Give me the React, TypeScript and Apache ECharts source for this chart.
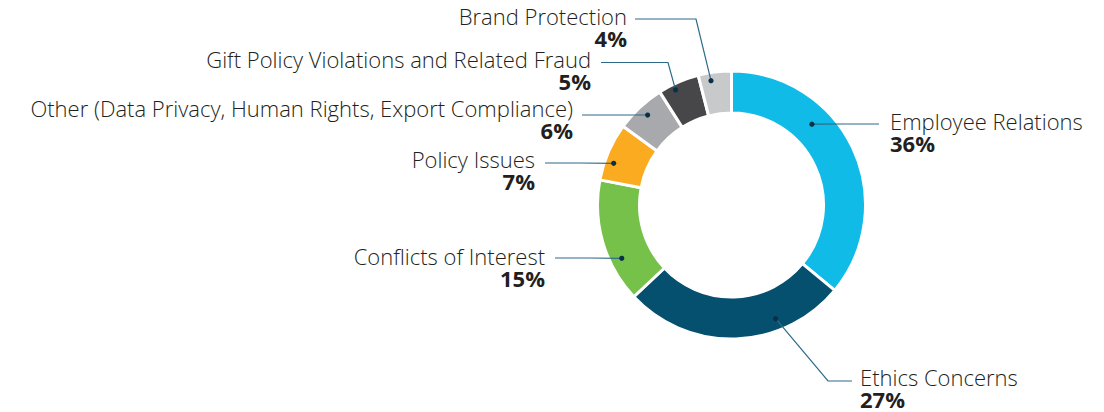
import React, { useEffect, useRef } from "react";
import * as echarts from "echarts";

const categories = [
  "Employee Relations",
  "Ethics Concerns",
  "Conflicts of Interest",
  "Policy Issues",
  "Other (Data Privacy, Human Rights, Export Compliance)",
  "Gift Policy Violations and Related Fraud",
  "Brand Protection",
];
const values = [36, 27, 15, 7, 6, 5, 4];
const colors = ["#10BBE8", "#05506F", "#76C14A", "#FBAB1F", "#A8A9AC", "#474749", "#C8C9CB"];

// layout (not data)
const CX = 731.5;
const CY = 205;
const R_IN = 92;
const R_OUT = 134;
const anchorFrac = [0.346, 0.3, 0.32, 0.345, 0.51, 0.36, 0.35];
const anchorR = [114, 122, 122, 125, 123, 128, 126];
// label: [x, yTop, align]
const labelPos: [number, number, string][] = [
  [890, 110, "left"],
  [860, 366, "left"],
  [545, 245, "right"],
  [535, 148, "right"],
  [573, 97, "right"],
  [591, 48, "right"],
  [627, 5, "right"],
];
// intermediate + end points of leader lines
const leaderPts: [number, number][][] = [
  [[845, 124], [879, 124]],
  [[828, 381], [852, 381]],
  [[590, 258], [555, 258]],
  [[580, 163], [545, 163]],
  [[620, 115], [582, 115]],
  [[668, 62.5], [601, 62.5]],
  [[696, 19], [635, 19]],
];

function anchorPoint(i: number): [number, number] {
  const total = values.reduce((a, b) => a + b, 0);
  let cum = 0;
  for (let k = 0; k < i; k++) cum += values[k];
  const theta = ((cum + anchorFrac[i] * values[i]) / total) * Math.PI * 2;
  return [CX + anchorR[i] * Math.sin(theta), CY - anchorR[i] * Math.cos(theta)];
}

export default function App() {
  const ref = useRef<HTMLDivElement>(null);
  useEffect(() => {
    if (!ref.current) return;
    const chart = echarts.init(ref.current, undefined, { renderer: "svg" });
    const font = "'Open Sans', sans-serif";
    const lines = categories.map((_, i) => ({
      type: "polyline",
      z: 90,
      silent: true,
      shape: { points: [anchorPoint(i), leaderPts[i][0], leaderPts[i][1]] },
      style: { stroke: "#2C6A89", lineWidth: 1.2, fill: null },
    }));
    const dots = categories.map((_, i) => {
      const [x, y] = anchorPoint(i);
      return {
        type: "circle",
        z: 100,
        silent: true,
        shape: { cx: x, cy: y, r: 2.6 },
        style: { fill: "#0B2F47" },
      };
    });
    chart.setOption({
      animation: false,
      backgroundColor: "#ffffff",
      series: [
        {
          type: "pie",
          silent: true,
          center: [CX, CY],
          radius: [R_IN, R_OUT],
          startAngle: 90,
          clockwise: true,
          avoidLabelOverlap: false,
          itemStyle: { borderColor: "#ffffff", borderWidth: 3 },
          emphasis: { disabled: true },
          data: categories.map((name, i) => ({
            name,
            value: values[i],
            itemStyle: { color: colors[i] },
          })),
          label: {
            show: true,
            position: "outer",
            formatter: (p: any) => `{n|${p.name}}\n{p|${p.value}%}`,
            rich: {
              n: { fontFamily: font, fontSize: 22, fontWeight: 300, color: "#231F20", lineHeight: 22 },
              p: { fontFamily: font, fontSize: 22, fontWeight: "bold", color: "#231F20", lineHeight: 22 },
            },
          },
          labelLine: { show: false },
          labelLayout: (params: any) => {
            const i = params.dataIndex;
            const [x, y, align] = labelPos[i];
            return { x, y, align, verticalAlign: "top" };
          },
        },
      ],
      graphic: [...lines, ...dots],
    });
    return () => chart.dispose();
  }, []);
  return (
    <div
      ref={ref}
      style={{ position: "fixed", left: 0, top: 0, width: 1104, height: 412, background: "#fff" }}
    />
  );
}
